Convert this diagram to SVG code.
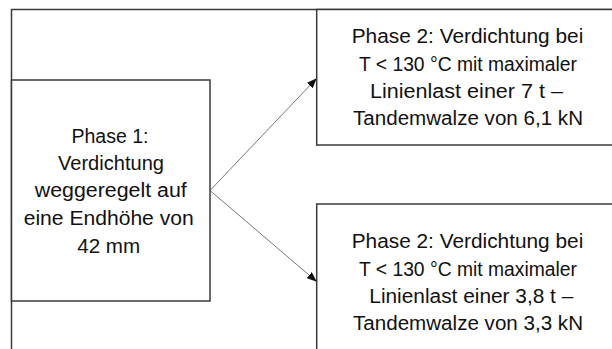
<svg xmlns="http://www.w3.org/2000/svg" width="612" height="349" viewBox="0 0 612 349">
  <style>
    .box { fill: #ffffff; stroke: #3a3a3a; stroke-width: 1.5; }
    .frame { fill: none; stroke: #3a3a3a; stroke-width: 1.5; }
    .conn { fill: none; stroke: #555555; stroke-width: 0.8; }
    .t { font-family: "Liberation Sans", Arial, sans-serif; font-size: 20px; fill: #111111; text-anchor: middle; }
  </style>
  <defs>
    <marker id="arr" markerWidth="10" markerHeight="8" refX="9" refY="4" orient="auto" markerUnits="userSpaceOnUse">
      <path d="M0,0 L10,4 L0,8 Z" fill="#111111"/>
    </marker>
  </defs>
  <rect width="612" height="349" fill="#ffffff"/>
  <g id="frame">
    <path class="frame" d="M11.5,349 V9.5 H612"/>
  </g>
  <g id="phase1">
    <rect class="box" x="11.5" y="80" width="198.5" height="221"/>
    <text class="t" x="110" y="142.7" textLength="77" lengthAdjust="spacingAndGlyphs">Phase 1:</text>
    <text class="t" x="111" y="170" textLength="106" lengthAdjust="spacingAndGlyphs">Verdichtung</text>
    <text class="t" x="110.8" y="197.3" textLength="152" lengthAdjust="spacingAndGlyphs">weggeregelt auf</text>
    <text class="t" x="108.7" y="225" textLength="170" lengthAdjust="spacingAndGlyphs">eine Endhöhe von</text>
    <text class="t" x="108.7" y="253.3" textLength="63" lengthAdjust="spacingAndGlyphs">42 mm</text>
  </g>
  <g id="phase2a">
    <rect class="box" x="316.7" y="9.5" width="310" height="135.5"/>
    <text class="t" x="467.5" y="43.3" textLength="231.6" lengthAdjust="spacingAndGlyphs">Phase 2: Verdichtung bei</text>
    <text class="t" x="468" y="71" textLength="218" lengthAdjust="spacingAndGlyphs">T &lt; 130 °C mit maximaler</text>
    <text class="t" x="466.5" y="97.7" textLength="193" lengthAdjust="spacingAndGlyphs">Linienlast einer 7 t –</text>
    <text class="t" x="468" y="125" textLength="230" lengthAdjust="spacingAndGlyphs">Tandemwalze von 6,1 kN</text>
  </g>
  <g id="phase2b">
    <rect class="box" x="316.7" y="204" width="310" height="160"/>
    <text class="t" x="467.5" y="248.3" textLength="231.6" lengthAdjust="spacingAndGlyphs">Phase 2: Verdichtung bei</text>
    <text class="t" x="468" y="276" textLength="218" lengthAdjust="spacingAndGlyphs">T &lt; 130 °C mit maximaler</text>
    <text class="t" x="471.3" y="303.3" textLength="204" lengthAdjust="spacingAndGlyphs">Linienlast einer 3,8 t –</text>
    <text class="t" x="468" y="330" textLength="230" lengthAdjust="spacingAndGlyphs">Tandemwalze von 3,3 kN</text>
  </g>
  <g id="connectors">
    <line class="conn" x1="210" y1="190.5" x2="316" y2="79" marker-end="url(#arr)"/>
    <line class="conn" x1="210" y1="190.5" x2="316" y2="281" marker-end="url(#arr)"/>
  </g>
</svg>
